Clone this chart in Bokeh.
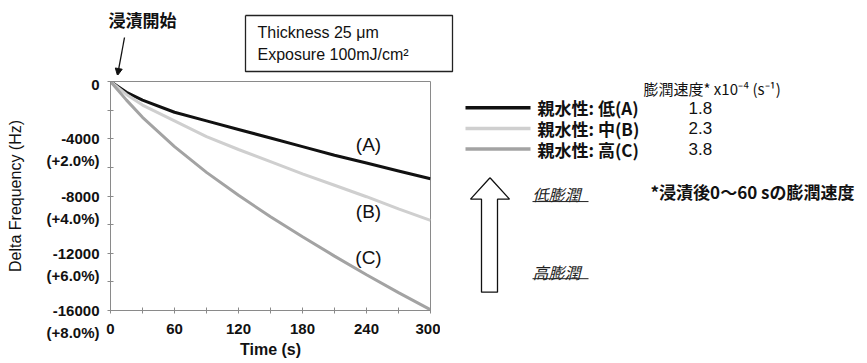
from bokeh.plotting import figure
from bokeh.layouts import column, row
from bokeh.models import Label, Arrow, NormalHead, FixedTicker, Range1d
from bokeh.embed import file_html
from bokeh.resources import INLINE

# ---------------- data ----------------
time_s = [0, 15, 30, 60, 90, 120, 150, 180, 210, 240, 270, 300]
freq_A = [0, -750, -1300, -2150, -2750, -3350, -3950, -4550, -5150, -5700, -6250, -6800]
freq_B = [0, -900, -1650, -2750, -3850, -4750, -5600, -6450, -7250, -8050, -8900, -9700]
freq_C = [0, -1300, -2500, -4550, -6350, -7950, -9450, -10850, -12200, -13500, -14750, -15950]

series_tags = ["(A)", "(B)", "(C)"]
legend_labels = ["親水性: 低(A)", "親水性: 中(B)", "親水性: 高(C)"]
swell_rates = ["1.8", "2.3", "3.8"]

x_ticks = [0, 60, 120, 180, 240, 300]
x_minor = [30, 90, 150, 210, 270]
y_ticks = [0, -4000, -8000, -12000, -16000]
y_minor = [-2000, -6000, -10000, -14000]
y_pct_labels = ["", "(+2.0%)", "(+4.0%)", "(+6.0%)", "(+8.0%)"]

LAT = "Liberation Sans"
JP = "Noto Sans CJK JP"
INK = "#111111"
colors = ["#111111", "#cfcfcf", "#a3a3a3"]

# page geometry (Bokeh's page template has no body margin)
PAGE_L, PAGE_R, PAGE_T, PAGE_B = 0, 867, 0, 363
SPLIT_Y = 75      # bottom of header strip
SPLIT_X = 440     # right edge of chart figure
FX0, FX1, FY0, FY1 = 110, 430, 83, 310   # plot frame in page pixels


def canvas_fig(x0, x1, y0, y1):
    """Blank figure whose data coordinates equal page pixels."""
    f = figure(width=x1 - x0, height=y1 - y0, output_backend="svg", toolbar_location=None,
               x_range=Range1d(x0, x1), y_range=Range1d(y1, y0),
               min_border=0, min_border_left=0, min_border_right=0,
               min_border_top=0, min_border_bottom=0)
    f.axis.visible = False
    f.grid.visible = False
    f.outline_line_color = None
    f.background_fill_color = "white"
    f.border_fill_color = "white"
    return f


# ---------------- header strip ----------------
top = canvas_fig(PAGE_L, PAGE_R, PAGE_T, SPLIT_Y)
top.add_layout(Label(x=142, y=19, text="浸漬開始", text_align="center",
                     text_baseline="middle", text_font=JP, text_font_style="bold",
                     text_font_size="17px", text_color=INK))
top.add_layout(Arrow(x_start=124, y_start=37, x_end=117, y_end=75,
                     line_color=INK, line_width=1.3,
                     end=NormalHead(size=7, fill_color=INK, line_color=INK)))
top.line([245, 452, 452, 245, 245], [15, 15, 71, 71, 15], line_color="#222222", line_width=1.3)
top.add_layout(Label(x=257, y=32, text="Thickness 25 μm", text_align="left",
                     text_baseline="middle", text_font=LAT,
                     text_font_size="16px", text_color=INK))
top.add_layout(Label(x=257, y=54, text="Exposure 100mJ/cm²", text_align="left",
                     text_baseline="middle", text_font=LAT,
                     text_font_size="16px", text_color=INK))

# ---------------- chart ----------------
CW = SPLIT_X - PAGE_L
CH = PAGE_B - SPLIT_Y
p = figure(width=CW, height=CH, output_backend="svg", toolbar_location=None,
           x_range=(0, 300), y_range=(-16000, 0),
           min_border_left=FX0 - PAGE_L, min_border_right=SPLIT_X - FX1,
           min_border_top=FY0 - SPLIT_Y - 2, min_border_bottom=PAGE_B - FY1)
p.background_fill_color = "white"
p.border_fill_color = "white"
p.outline_line_color = "#8a8a8a"
p.outline_line_width = 1
p.grid.visible = False

p.xaxis.ticker = FixedTicker(ticks=x_ticks, minor_ticks=x_minor)
p.yaxis.ticker = FixedTicker(ticks=y_ticks, minor_ticks=y_minor)
for ax in (p.xaxis[0], p.yaxis[0]):
    ax.axis_line_color = "#8a8a8a"
    ax.major_tick_line_color = "#8a8a8a"
    ax.minor_tick_line_color = "#8a8a8a"
    ax.major_tick_in = 3
    ax.major_tick_out = 3
    ax.minor_tick_in = 3
    ax.minor_tick_out = 3
    ax.major_label_text_font = LAT
    ax.major_label_text_font_style = "bold"
    ax.major_label_text_font_size = "15px"
    ax.major_label_text_color = INK
    ax.axis_label_text_font = LAT
    ax.axis_label_text_font_size = "16px"
    ax.axis_label_text_color = INK

overrides = {}
for v, pct in zip(y_ticks, y_pct_labels):
    overrides[v] = f"{v}" if not pct else f" \n{v}\n{pct}"
p.yaxis.major_label_overrides = overrides
p.yaxis.major_label_text_line_height = 1.3

p.xaxis.major_label_standoff = 10
p.xaxis.axis_label = "Time (s)"
p.xaxis.axis_label_text_font_style = "bold"
p.xaxis.axis_label_standoff = 4

p.yaxis.major_label_standoff = 8
p.yaxis.axis_label = "Delta Frequency (Hz)"
p.yaxis.axis_label_text_font_style = "normal"
p.yaxis.axis_label_standoff = 20

for ys, c in zip([freq_A, freq_B, freq_C], colors):
    p.line(time_s, ys, line_color=c, line_width=3)


def dx(px):
    return (px - FX0) / (FX1 - FX0) * 300


def dy(py):
    return -(py - FY0) / (FY1 - FY0) * 16000


tag_pos = [(368, 145), (368, 212), (368, 257)]
for t, (px, py) in zip(series_tags, tag_pos):
    p.add_layout(Label(x=dx(px), y=dy(py), text=t, text_align="center",
                       text_baseline="middle", text_font=LAT,
                       text_font_size="19px", text_color=INK))

# ---------------- right panel: legend, arrow, notes ----------------
rp = canvas_fig(SPLIT_X, PAGE_R, SPLIT_Y, PAGE_B)
rp.add_layout(Label(x=643, y=84, text="膨潤速度* x10⁻⁴ (s⁻¹)", text_align="left",
                    text_baseline="middle", text_font=JP, text_font_size="15px",
                    text_color=INK))
for i, (lab, rate, c) in enumerate(zip(legend_labels, swell_rates, colors)):
    py = 108 + 26 * i
    rp.line([465, 530], [py, py], line_color=c, line_width=3.5)
    rp.add_layout(Label(x=537, y=py, text=lab, text_align="left",
                        text_baseline="middle", text_font=JP, text_font_style="bold",
                        text_font_size="17px", text_color=INK))
    rp.add_layout(Label(x=688, y=py, text=rate, text_align="left",
                        text_baseline="middle", text_font=LAT,
                        text_font_size="17px", text_color=INK))

arrow_px = [489.5, 509, 497, 497, 481, 481, 470, 489.5]
arrow_py = [196, 223, 223, 340, 340, 223, 223, 196]
rp.line(arrow_px, arrow_py, line_color=INK, line_width=1.3)

for txt, py in [("低膨潤", 217), ("高膨潤", 314)]:
    rp.add_layout(Label(x=532, y=py, text=txt, text_align="left",
                        text_baseline="middle", text_font=JP, text_font_style="italic",
                        text_font_size="16px", text_color="#222222"))
    rp.line([532, 588], [py + 9, py + 9], line_color="#222222", line_width=1)

rp.add_layout(Label(x=650, y=213, text="*浸漬後0〜60 sの膨潤速度", text_align="left",
                    text_baseline="middle", text_font=JP, text_font_style="bold",
                    text_font_size="17px", text_color=INK))

layout = column(top, row(p, rp))
open("out.html", "w").write(file_html(layout, INLINE))
